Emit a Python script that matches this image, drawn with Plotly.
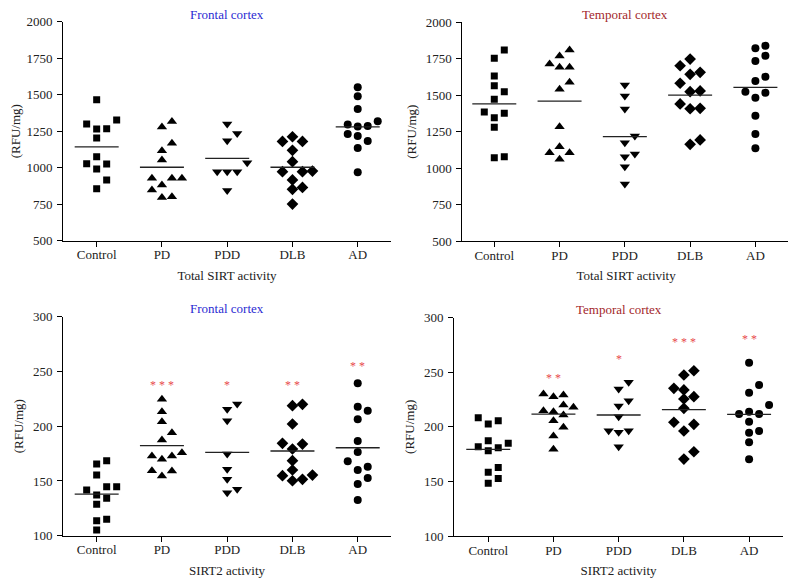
import numpy as np
import plotly.graph_objects as go

# ---------------- data ----------------
groups = ["Control", "PD", "PDD", "DLB", "AD"]

# Total SIRT activity, frontal cortex (RFU/mg)
tot_fc_control = [1466, 1326, 1299, 1267, 1265, 1203, 1075, 1027, 1025, 991, 916, 856]
tot_fc_pd = [1317, 1279, 1167, 1116, 1053, 927, 927, 927, 881, 847, 801, 796]
tot_fc_pdd = [1299, 1235, 1185, 1034, 973, 973, 973, 843]
tot_fc_dlb = [1212, 1180, 1180, 1119, 1041, 977, 973, 973, 916, 865, 852, 751]
tot_fc_ad = [1551, 1489, 1402, 1318, 1296, 1286, 1282, 1231, 1217, 1183, 1135, 969]

# Total SIRT activity, temporal cortex
tot_tc_control = [1810, 1753, 1632, 1565, 1524, 1472, 1385, 1376, 1346, 1280, 1078, 1071]
tot_tc_pd = [1810, 1769, 1714, 1691, 1691, 1588, 1540, 1284, 1147, 1106, 1106, 1060]
tot_tc_pdd = [1570, 1494, 1405, 1220, 1174, 1097, 1078, 1010, 891]
tot_tc_dlb = [1748, 1702, 1657, 1643, 1582, 1529, 1524, 1440, 1410, 1407, 1193, 1163]
tot_tc_ad = [1840, 1822, 1771, 1735, 1627, 1597, 1524, 1517, 1483, 1359, 1234, 1136]

# SIRT2 activity, frontal cortex
s2_fc_control = [168.5, 165.5, 155.4, 144.8, 144.8, 141.7, 137.2, 134.2, 128.7, 115.0, 113.7, 105.2]
s2_fc_pd = [224.6, 213.2, 204.1, 194.1, 187.4, 175.8, 172.8, 172.8, 169.8, 159.4, 159.1, 154.5]
s2_fc_pdd = [220.3, 215.4, 205.0, 174.6, 160.6, 151.5, 142.4, 139.3]
s2_fc_dlb = [220.0, 218.7, 202.0, 184.4, 183.7, 179.2, 168.5, 160.0, 155.4, 154.8, 151.5, 150.2]
s2_fc_ad = [239.2, 217.8, 214.2, 206.3, 186.5, 176.4, 168.0, 163.0, 160.0, 152.7, 147.2, 132.6]

# SIRT2 activity, temporal cortex
s2_tc_control = [208.4, 205.6, 202.6, 187.3, 184.9, 181.8, 180.9, 178.1, 162.8, 158.4, 152.7, 148.3]
s2_tc_pd = [230.1, 229.2, 227.6, 220.0, 217.9, 214.8, 213.9, 210.9, 205.6, 199.6, 191.6, 179.4]
s2_tc_pdd = [240.8, 234.7, 224.0, 219.1, 209.3, 196.5, 196.5, 195.0, 181.8]
s2_tc_dlb = [251.4, 247.5, 235.3, 233.8, 227.6, 225.5, 217.0, 204.2, 202.3, 196.2, 177.2, 170.5]
s2_tc_ad = [258.8, 238.3, 231.3, 220.0, 213.9, 211.8, 211.8, 204.7, 196.2, 194.6, 185.8, 170.3]

# significance marks
s2_fc_sig = ["", "***", "*", "**", "**"]
s2_tc_sig = ["", "**", "*", "***", "**"]
s2_fc_sig_y = [None, 240, 240, 240, 257.5]
s2_tc_sig_y = [None, 247.5, 265, 280.5, 283.5]

# ---------------- layout / styling ----------------
W, H = 796, 587
PAGE_OFF = 8  # default page margin around the figure
FONT = "Liberation Serif, Times New Roman, serif"
BLUE = "#2a2ad2"
DARKRED = "#a3262a"
SIGRED = "#e8474c"
symbols = ["square", "triangle-up", "triangle-down", "diamond", "circle"]
msizes = [7, 9, 9, 9, 8]


def xd(px):
    return (px - PAGE_OFF) / W


def yd(py):
    return 1 - (py - PAGE_OFF) / H


panels = [
    dict(series=[tot_fc_control, tot_fc_pd, tot_fc_pdd, tot_fc_dlb, tot_fc_ad],
         title="Frontal cortex", tcolor=BLUE, xtitle="Total SIRT activity",
         xdom=[xd(63), xd(391)], ydom=[yd(240.7), yd(21.7)],
         yrange=[500, 2000], dtick=250, xrange=[-0.516, 4.51], sig=None, sigy=None,
         title_y=yd(14.5)),
    dict(series=[tot_tc_control, tot_tc_pd, tot_tc_pdd, tot_tc_dlb, tot_tc_ad],
         title="Temporal cortex", tcolor=DARKRED, xtitle="Total SIRT activity",
         xdom=[xd(462.3), xd(790)], ydom=[yd(241), yd(22.3)],
         yrange=[500, 2000], dtick=250, xrange=[-0.49, 4.53], sig=None, sigy=None,
         title_y=yd(14.5)),
    dict(series=[s2_fc_control, s2_fc_pd, s2_fc_pdd, s2_fc_dlb, s2_fc_ad],
         title="Frontal cortex", tcolor=BLUE, xtitle="SIRT2 activity",
         xdom=[xd(63), xd(391)], ydom=[yd(535.7), yd(316.7)],
         yrange=[100, 300], dtick=50, xrange=[-0.516, 4.51], sig=s2_fc_sig, sigy=s2_fc_sig_y,
         title_y=yd(308)),
    dict(series=[s2_tc_control, s2_tc_pd, s2_tc_pdd, s2_tc_dlb, s2_tc_ad],
         title="Temporal cortex", tcolor=DARKRED, xtitle="SIRT2 activity",
         xdom=[xd(454), xd(783)], ydom=[yd(536), yd(317.7)],
         yrange=[100, 300], dtick=50, xrange=[-0.525, 4.52], sig=s2_tc_sig, sigy=s2_tc_sig_y,
         title_y=yd(309)),
]


def swarm_offsets(vals, px_per_unit, px_per_cat, slot_px=10.0, thresh=9.0):
    """Simple deterministic beeswarm: returns x offsets in category units."""
    vals = np.asarray(vals, dtype=float)
    order = np.argsort(vals, kind="stable")
    placed = []
    offs = np.zeros(len(vals))
    for i in order:
        y = vals[i] * px_per_unit
        chosen = 0
        for s in [0, 1, -1, 2, -2, 3, -3]:
            if all(abs(y - py) >= thresh or ps != s for py, ps in placed):
                chosen = s
                break
        placed.append((y, chosen))
        offs[i] = chosen * slot_px / px_per_cat
    return offs


fig = go.Figure()
annotations = []
MEAN_HALF = 0.337

for k, p in enumerate(panels):
    sfx = "" if k == 0 else str(k + 1)
    xa, ya = "x" + sfx, "y" + sfx
    plot_w = (p["xdom"][1] - p["xdom"][0]) * W
    plot_h = (p["ydom"][1] - p["ydom"][0]) * H
    px_per_cat = plot_w / (p["xrange"][1] - p["xrange"][0])
    px_per_unit = plot_h / (p["yrange"][1] - p["yrange"][0])

    for gi, vals in enumerate(p["series"]):
        offs = swarm_offsets(vals, px_per_unit, px_per_cat)
        fig.add_trace(go.Scatter(
            x=gi + offs, y=vals, mode="markers", xaxis=xa, yaxis=ya,
            marker=dict(symbol=symbols[gi], size=msizes[gi], color="black",
                        line=dict(width=0)),
            showlegend=False, hoverinfo="y"))
        m = float(np.mean(vals))
        fig.add_trace(go.Scatter(
            x=[gi - MEAN_HALF, gi + MEAN_HALF], y=[m, m], mode="lines",
            xaxis=xa, yaxis=ya, line=dict(color="#222222", width=1.3),
            showlegend=False, hoverinfo="skip"))
        if p["sig"] and p["sig"][gi]:
            annotations.append(dict(
                x=gi, y=p["sigy"][gi], xref=xa, yref=ya,
                text=" ".join(p["sig"][gi]), showarrow=False,
                font=dict(family=FONT, size=12, color=SIGRED),
                yanchor="middle", yshift=-3))

    annotations.append(dict(
        x=2, y=p["title_y"], xref=xa, yref="paper", text=p["title"],
        showarrow=False, font=dict(family=FONT, size=13, color=p["tcolor"]),
        yanchor="middle"))

    axis_common = dict(showline=True, linecolor="black", linewidth=1,
                       ticks="outside", ticklen=5, tickcolor="black", tickwidth=1,
                       showgrid=False, zeroline=False, automargin=False,
                       tickfont=dict(family=FONT, size=13, color="#222222"))
    fig.layout["xaxis" + sfx] = dict(
        domain=p["xdom"], anchor=ya, range=p["xrange"],
        tickmode="array", tickvals=list(range(len(groups))), ticktext=groups,
        ticklabelstandoff=-3,
        title=dict(text=p["xtitle"], font=dict(family=FONT, size=13, color="#222222"),
                   standoff=9),
        **axis_common)
    fig.layout["yaxis" + sfx] = dict(
        domain=p["ydom"], anchor=xa, range=p["yrange"], dtick=p["dtick"],
        tick0=p["yrange"][0], ticklabelstandoff=2,
        title=dict(text="(RFU/mg)", font=dict(family=FONT, size=13, color="#222222"),
                   standoff=6),
        **axis_common)

fig.update_layout(
    width=W, height=H, margin=dict(l=0, r=0, t=0, b=0, autoexpand=False),
    paper_bgcolor="white", plot_bgcolor="white",
    font=dict(family=FONT, size=13, color="#222222"),
    annotations=annotations,
)

fig.write_html("out.html")
